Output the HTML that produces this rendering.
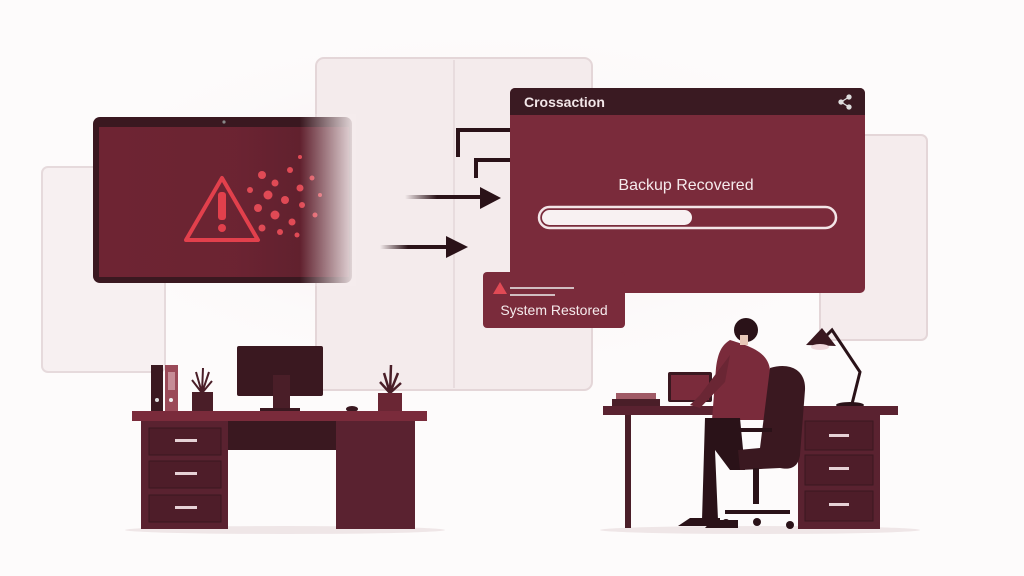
<!DOCTYPE html>
<html><head><meta charset="utf-8"><style>
html,body{margin:0;padding:0;background:#fff;}
svg{display:block;font-family:"Liberation Sans",sans-serif;}
</style></head><body>
<svg width="1024" height="576" viewBox="0 0 1024 576" xmlns="http://www.w3.org/2000/svg">
<defs>
<linearGradient id="fade" x1="0" x2="1" y1="0" y2="0">
<stop offset="0" stop-color="#6e2433" stop-opacity="1"/>
<stop offset="0.55" stop-color="#6e2433" stop-opacity="0.95"/>
<stop offset="1" stop-color="#6e2433" stop-opacity="0.6"/>
</linearGradient>
<linearGradient id="wfade" x1="0" x2="1" y1="0" y2="0">
<stop offset="0" stop-color="#f5eced" stop-opacity="0"/>
<stop offset="1" stop-color="#f5eced" stop-opacity="0.95"/>
</linearGradient>
<linearGradient id="arr" x1="0" x2="1"><stop offset="0" stop-color="#2a1218" stop-opacity="0"/><stop offset="0.4" stop-color="#2a1218"/></linearGradient>
<radialGradient id="glow" cx="0.5" cy="0.5" r="0.5"><stop offset="0" stop-color="#e8c9cf"/><stop offset="1" stop-color="#fff" stop-opacity="0"/></radialGradient>
</defs>
<rect width="1024" height="576" fill="#fdfbfb"/>
<ellipse cx="480" cy="200" rx="460" ry="190" fill="url(#glow)" opacity="0.4"/>
<!-- background panels -->
<rect x="42" y="167" width="123" height="205" rx="6" fill="#f7f0f1" stroke="#e6dadc" stroke-width="2"/>
<rect x="316" y="58" width="276" height="332" rx="8" fill="#f4ebec" stroke="#e4d6d8" stroke-width="2"/>
<line x1="454" y1="60" x2="454" y2="388" stroke="#e8dcde" stroke-width="2"/>
<rect x="820" y="135" width="107" height="205" rx="6" fill="#f5eced" stroke="#e4d6d8" stroke-width="2"/>
<!-- left monitor -->
<rect x="93" y="117" width="259" height="166" rx="7" fill="#3a1820"/>
<rect x="99" y="127" width="250" height="150" fill="url(#fade)"/>
<circle cx="224" cy="122" r="1.6" fill="#888"/>
<g fill="#e04a55">
<circle cx="262" cy="175" r="4"/><circle cx="275" cy="183" r="3.5"/><circle cx="290" cy="170" r="3"/><circle cx="300" cy="188" r="3.5"/><circle cx="268" cy="195" r="4.5"/><circle cx="285" cy="200" r="4"/><circle cx="302" cy="205" r="3"/><circle cx="258" cy="208" r="4"/><circle cx="275" cy="215" r="4.5"/><circle cx="292" cy="222" r="3.5"/><circle cx="262" cy="228" r="3.5"/><circle cx="280" cy="232" r="3"/><circle cx="297" cy="235" r="2.5"/><circle cx="312" cy="178" r="2.5"/><circle cx="315" cy="215" r="2.5"/><circle cx="250" cy="190" r="3"/><circle cx="300" cy="157" r="2"/><circle cx="320" cy="195" r="2"/>
</g>
<rect x="300" y="114" width="56" height="172" fill="url(#wfade)"/>
<path d="M222,178 L258,240 L186,240 Z" fill="none" stroke="#e2404c" stroke-width="4" stroke-linejoin="round"/>
<rect x="218" y="192" width="8" height="28" rx="3" fill="#e2404c"/>
<circle cx="222" cy="228" r="4" fill="#e2404c"/>
<!-- arrows -->
<path d="M458,157 V130 H520" fill="none" stroke="#2a1218" stroke-width="4"/>
<path d="M515,120 L541,133 L515,146 Z" fill="#2a1218"/>
<path d="M476,178 V160 H512" fill="none" stroke="#2a1218" stroke-width="4"/>
<rect x="405" y="195" width="80" height="4" fill="url(#arr)"/>
<path d="M480,187 L501,198 L480,209 Z" fill="#2a1218"/>
<rect x="380" y="245" width="70" height="4" fill="url(#arr)"/>
<path d="M446,236 L468,247 L446,258 Z" fill="#2a1218"/>
<!-- window -->
<rect x="510" y="88" width="355" height="205" rx="5" fill="#7a2b3b"/>
<path d="M510,93 a5,5 0 0 1 5,-5 H860 a5,5 0 0 1 5,5 V115 H510 Z" fill="#3a1a22"/>
<text x="524" y="107" font-size="14" font-weight="bold" fill="#f2e6e8">Crossaction</text>
<g fill="#ddd" stroke="#ddd" stroke-width="1.3"><circle cx="849" cy="97" r="2"/><circle cx="849" cy="107" r="2"/><circle cx="841" cy="102" r="2"/><line x1="849" y1="97" x2="841" y2="102"/><line x1="849" y1="107" x2="841" y2="102"/></g>
<text x="686" y="190" font-size="16" fill="#f5eaec" text-anchor="middle">Backup Recovered</text>
<rect x="539" y="207" width="297" height="21" rx="10.5" fill="none" stroke="#f3e6e8" stroke-width="2.5"/>
<rect x="542" y="210" width="150" height="15" rx="7.5" fill="#f8f1f2"/>
<!-- system restored -->
<rect x="483" y="272" width="142" height="56" rx="4" fill="#7a2b3b"/>
<path d="M500,282 L507,294 L493,294 Z" fill="#e04a55"/>
<line x1="510" y1="288" x2="574" y2="288" stroke="#eee" stroke-width="1.5"/>
<line x1="510" y1="295" x2="555" y2="295" stroke="#eee" stroke-width="1.5"/>
<text x="554" y="315" font-size="14" fill="#f5eaec" text-anchor="middle">System Restored</text>
<!-- floor shadows -->
<ellipse cx="285" cy="530" rx="160" ry="4" fill="#efe6e7"/>
<ellipse cx="760" cy="530" rx="160" ry="4" fill="#efe6e7"/>
<!-- left desk -->
<rect x="151" y="365" width="12" height="46" fill="#3a1820"/><circle cx="157" cy="400" r="2" fill="#ddd"/>
<rect x="165" y="365" width="13" height="46" fill="#9a4a58"/><rect x="168" y="372" width="7" height="18" fill="#c58c96"/><circle cx="171" cy="400" r="2" fill="#eee"/>
<path d="M202,393 L196,372 M202,393 L203,368 M202,393 L209,372 M202,393 L192,380 M202,393 L212,381" stroke="#4a1e28" stroke-width="2"/>
<rect x="192" y="392" width="21" height="19" fill="#4a1e28"/>
<path d="M390,393 L384,373 M390,393 L391,365 M390,393 L398,373 M390,393 L380,382 M390,393 L401,383" stroke="#4a1e28" stroke-width="2.5"/>
<rect x="378" y="393" width="24" height="18" fill="#6a2634"/>
<rect x="237" y="346" width="86" height="50" rx="2" fill="#3a1820"/>
<rect x="273" y="375" width="17" height="33" fill="#4a1e28"/>
<rect x="260" y="408" width="40" height="4" fill="#3a1820"/>
<ellipse cx="352" cy="409" rx="6" ry="3" fill="#3a1820"/>
<rect x="132" y="411" width="295" height="10" fill="#7a2b3b"/>
<rect x="141" y="421" width="87" height="108" fill="#5a2230"/>
<rect x="228" y="421" width="108" height="29" fill="#3a1820"/>
<rect x="336" y="421" width="79" height="108" fill="#5a2230"/>
<g fill="#4e1d29" stroke="#3a1820"><rect x="149" y="428" width="72" height="27"/><rect x="149" y="461" width="72" height="27"/><rect x="149" y="495" width="72" height="27"/></g>
<g fill="#e6d2d6"><rect x="175" y="439" width="22" height="3"/><rect x="175" y="472" width="22" height="3"/><rect x="175" y="506" width="22" height="3"/></g>
<!-- right desk -->
<path d="M822,340 L832,330 L860,372 L852,404" stroke="#2a1218" stroke-width="3" fill="none"/>
<path d="M806,345 L822,328 L836,346 Z" fill="#3a1820"/>
<ellipse cx="820" cy="347" rx="9" ry="3" fill="#f0d8dc"/>
<ellipse cx="850" cy="405" rx="14" ry="3" fill="#2a1218"/>
<rect x="616" y="393" width="40" height="6" fill="#a05a66"/>
<rect x="612" y="399" width="48" height="7" fill="#4a1e28"/>
<rect x="668" y="372" width="44" height="30" rx="2" fill="#3a1820"/><rect x="671" y="375" width="38" height="25" fill="#7a2b3b"/>
<rect x="603" y="406" width="295" height="9" fill="#5a2230"/>
<rect x="625" y="415" width="6" height="113" fill="#4a1e28"/>
<rect x="798" y="415" width="82" height="114" fill="#5a2230"/>
<g fill="#4e1d29" stroke="#3a1820"><rect x="805" y="421" width="68" height="29"/><rect x="805" y="455" width="68" height="30"/><rect x="805" y="491" width="68" height="30"/></g>
<g fill="#e6d2d6"><rect x="829" y="434" width="20" height="3"/><rect x="829" y="467" width="20" height="3"/><rect x="829" y="503" width="20" height="3"/></g>
<!-- person -->
<path d="M730,340 C745,345 768,350 770,370 L772,420 L712,420 L716,368 C718,352 722,345 730,340Z" fill="#7a2b3b"/>
<path d="M730,355 L700,395 L690,405 L700,408 L725,382Z" fill="#6a2634"/>
<circle cx="746" cy="330" r="12" fill="#2a1218"/>
<rect x="740" y="335" width="8" height="10" fill="#e8c8b8"/>
<path d="M705,418 L740,418 L745,470 L730,470 L715,450 L718,520 L702,520 Z" fill="#2a1218"/>
<path d="M690,518 L720,518 L720,526 L678,526 Z" fill="#2a1218"/>
<path d="M712,520 L738,520 L738,528 L705,528 Z" fill="#2a1218"/>
<!-- chair -->
<path d="M770,368 C790,362 806,370 805,390 L800,455 C798,468 790,470 780,468 L740,470 L738,450 L760,448 Z" fill="#3a1820"/>
<rect x="722" y="428" width="50" height="4" fill="#2a1218"/>
<rect x="753" y="468" width="6" height="36" fill="#2a1218"/>
<path d="M725,512 L790,512" stroke="#2a1218" stroke-width="4"/>
<circle cx="726" cy="523" r="4" fill="#2a1218"/><circle cx="757" cy="522" r="4" fill="#2a1218"/><circle cx="790" cy="525" r="4" fill="#2a1218"/>
</svg>
</body></html>
